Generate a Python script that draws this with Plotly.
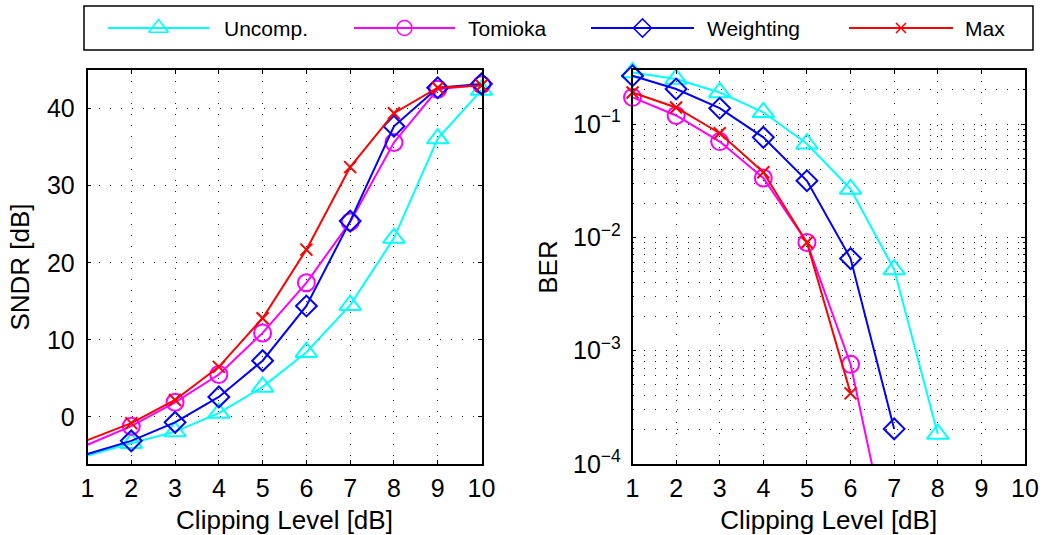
import plotly.graph_objects as go

# Clipping levels [dB]
clip_levels = [1, 2, 3, 4, 5, 6, 7, 8, 9, 10]

# SNDR [dB] per clipping level
sndr_uncomp = [-5.0, -3.4, -1.9, 0.5, 3.9, 8.4, 14.5, 23.2, 36.1, 42.4]
sndr_tomioka = [-3.6, -1.2, 1.9, 5.5, 10.9, 17.4, 25.3, 35.6, 42.5, 43.1]
sndr_weighting = [-4.8, -3.1, -0.7, 2.6, 7.3, 14.4, 25.4, 37.7, 42.7, 43.2]
sndr_max = [-3.0, -0.8, 2.2, 6.5, 12.8, 21.7, 32.4, 39.4, 42.7, 43.0]

# BER per clipping level (curves stop once no errors are counted)
ber_uncomp = [0.285, 0.25, 0.19, 0.127, 0.067, 0.0267, 0.0052, 1.84e-4]
ber_tomioka = [0.172, 0.119, 0.070, 0.0334, 0.0090, 7.6e-4, 1.2e-5]
ber_weighting = [0.267, 0.204, 0.138, 0.0763, 0.0316, 0.0065, 2.04e-4]
ber_max = [0.19, 0.14, 0.083, 0.0375, 0.0090, 4.2e-4]

series_names = ["Uncomp.", "Tomioka", "Weighting", "Max"]
colors = ["#00FFFF", "#FF00FF", "#0000FF", "#FF0000"]
symbols = ["triangle-up-open", "circle-open", "diamond-open", "x-thin"]
sizes = [19, 17, 16, 12]
legend_sizes = [17, 15, 14, 10]

W, H = 1049, 535
FONT = "Liberation Sans, Arial, Helvetica, sans-serif"
DOT = "1px,10px"
GRIDC = "#222"

fig = go.Figure()

sndr = [sndr_uncomp, sndr_tomioka, sndr_weighting, sndr_max]
ber = [ber_uncomp, ber_tomioka, ber_weighting, ber_max]

for name, col, sym, sz, ys in zip(series_names, colors, symbols, sizes, sndr):
    op = [0] + [1] * (len(ys) - 1)
    fig.add_trace(go.Scatter(
        x=clip_levels[:len(ys)], y=ys, mode="lines+markers", name=name,
        line=dict(color=col, width=2),
        marker=dict(symbol=sym, size=sz, color=col, opacity=op,
                    line=dict(color=col, width=2)),
        cliponaxis=False, showlegend=False, xaxis="x", yaxis="y"))

for name, col, sym, sz, ys in zip(series_names, colors, symbols, sizes, ber):
    op = [1 if v >= 1e-4 else 0 for v in ys]
    fig.add_trace(go.Scatter(
        x=clip_levels[:len(ys)], y=ys, mode="lines+markers", name=name,
        line=dict(color=col, width=2),
        marker=dict(symbol=sym, size=sz, color=col, opacity=op,
                    line=dict(color=col, width=2)),
        cliponaxis=False, showlegend=False, xaxis="x2", yaxis="y2"))

# Legend strip drawn in its own pixel-scaled axes
legend_line_x = [(108, 209), (354, 455), (591, 694), (849, 953)]
legend_text_x = [222, 466, 705, 963]
LEG_Y = 28
for (x0, x1), tx, name, col, sym, sz in zip(legend_line_x, legend_text_x,
                                          series_names, colors, symbols,
                                          legend_sizes):
    fig.add_trace(go.Scatter(
        x=[x0, (x0 + x1) / 2, x1], y=[LEG_Y] * 3, mode="lines+markers",
        line=dict(color=col, width=2),
        marker=dict(symbol=sym, size=sz, color=col, opacity=[0, 1, 0],
                    line=dict(color=col, width=1.5)),
        showlegend=False, hoverinfo="skip", xaxis="x3", yaxis="y3"))
    fig.add_annotation(x=tx, y=LEG_Y, xref="x3", yref="y3", text=name,
                       showarrow=False, xanchor="left", yanchor="middle",
                       font=dict(family=FONT, size=21, color="black"))

fig.add_shape(type="rect", xref="paper", yref="paper",
              x0=84 / W, x1=1033 / W, y0=(H - 50) / H, y1=(H - 6) / H,
              line=dict(color="black", width=1.5), fillcolor="rgba(0,0,0,0)")

ydom = [(H - 464) / H, (H - 70) / H]
tickfont = dict(family=FONT, size=25, color="black")
titlefont = dict(family=FONT, size=26, color="black")

common_x = dict(
    range=[1, 10], tickmode="array", tickvals=clip_levels,
    ticktext=[str(v) for v in clip_levels],
    showline=True, linecolor="black", linewidth=1.5, mirror="ticks",
    ticks="inside", ticklen=4, tickcolor="black", tickwidth=1,
    showgrid=True, gridcolor=GRIDC, gridwidth=1, griddash=DOT,
    zeroline=False, tickfont=tickfont, ticklabelstandoff=1,
    automargin=False,
    title=dict(text="Clipping Level [dB]", font=titlefont, standoff=12),
)

minor_vals = []
for dec in [1e-4, 1e-3, 1e-2, 1e-1]:
    for m in range(2, 10):
        v = m * dec
        if v <= 0.3:
            minor_vals.append(v)

fig.update_layout(
    width=W, height=H,
    margin=dict(l=0, r=0, t=0, b=0, autoexpand=False),
    paper_bgcolor="white", plot_bgcolor="white",
    font=dict(family=FONT, color="black"),
    xaxis=dict(domain=[87.5 / W, 481.5 / W], anchor="y", **common_x),
    yaxis=dict(
        domain=ydom, anchor="x", range=[-6.1, 45],
        tickmode="array", tickvals=[0, 10, 20, 30, 40],
        showline=True, linecolor="black", linewidth=1.5, mirror="ticks",
        ticks="inside", ticklen=4, tickcolor="black", tickwidth=1,
        showgrid=True, gridcolor=GRIDC, gridwidth=1, griddash=DOT,
        zeroline=False, tickfont=tickfont, ticklabelstandoff=6,
        automargin=False,
        title=dict(text="SNDR [dB]", font=titlefont, standoff=10),
    ),
    xaxis2=dict(domain=[632.5 / W, 1025 / W], anchor="y2", **common_x),
    yaxis2=dict(
        domain=ydom, anchor="x2", type="log", range=[-4, -0.523],
        tickmode="array", tickvals=[1e-4, 1e-3, 1e-2, 1e-1],
        ticktext=["10<sup>\u22124</sup>", "10<sup>\u22123</sup>",
                  "10<sup>\u22122</sup>", "10<sup>\u22121</sup>"],
        showline=True, linecolor="black", linewidth=1.5, mirror="ticks",
        ticks="inside", ticklen=4, tickcolor="black", tickwidth=1,
        showgrid=True, gridcolor=GRIDC, gridwidth=1, griddash=DOT,
        minor=dict(tickmode="array", tickvals=minor_vals, ticks="inside",
                   ticklen=2, tickcolor="black", showgrid=True,
                   gridcolor=GRIDC, gridwidth=1, griddash=DOT),
        zeroline=False, tickfont=tickfont, ticklabelstandoff=5,
        automargin=False,
        title=dict(text="BER", font=titlefont, standoff=8),
    ),
    xaxis3=dict(domain=[0, 1], anchor="y3", range=[0, W], visible=False,
                fixedrange=True, automargin=False),
    yaxis3=dict(domain=[(H - 56) / H, 1], anchor="x3", range=[56, 0],
                visible=False, fixedrange=True, automargin=False),
)

fig.write_html("out.html")
